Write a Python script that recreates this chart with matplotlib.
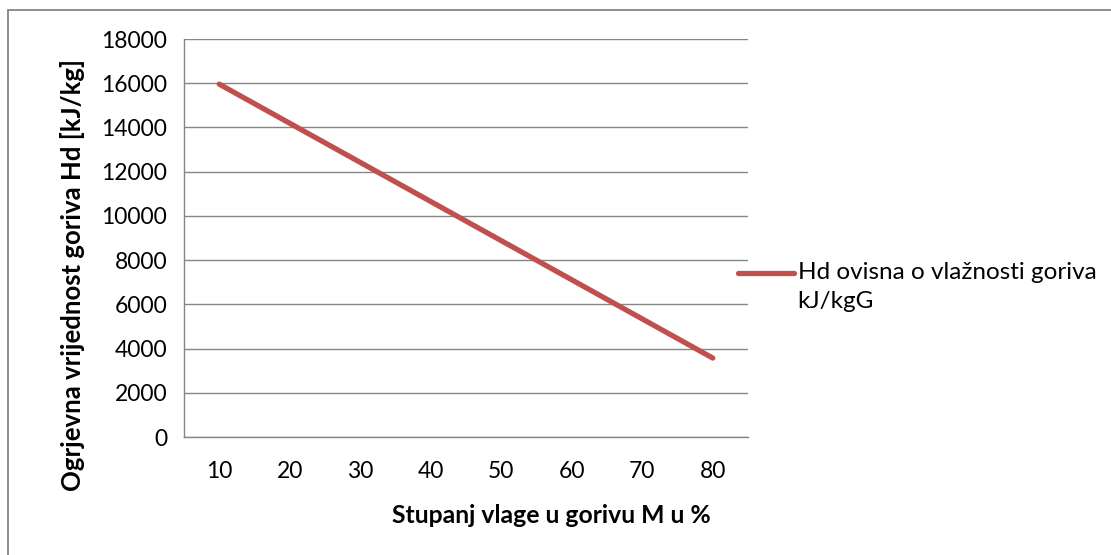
import matplotlib.pyplot as plt
import matplotlib.patches as patches

plt.rcParams['font.family'] = ['Lato', 'DejaVu Sans']

# moisture content M (%) and net heating value Hd (kJ/kg)
vlaga = [10, 20, 30, 40, 50, 60, 70, 80]
hd = [15960, 14190, 12420, 10650, 8880, 7110, 5340, 3570]
y_ticks = [0, 2000, 4000, 6000, 8000, 10000, 12000, 14000, 16000, 18000]

grey = '#868686'

fig = plt.figure(figsize=(11.11, 5.55), dpi=100)
ax = fig.add_axes([0.1656, 0.2126, 0.5077, 0.7171])

ax.plot(vlaga, hd, color='#C0504D', linewidth=3.8, solid_capstyle='round',
        label='Hd ovisna o vlažnosti goriva\nkJ/kgG')

ax.set_xlim(5, 85)
ax.set_ylim(0, 18000)
ax.set_xticks(vlaga)
ax.set_xticklabels([str(v) for v in vlaga])
ax.set_yticks(y_ticks)
ax.set_yticklabels([str(v) for v in y_ticks])

ax.grid(axis='y', color=grey, linewidth=1.0)
ax.set_axisbelow(True)
for s in ['top', 'right']:
    ax.spines[s].set_visible(False)
for s in ['left', 'bottom']:
    ax.spines[s].set_color(grey)
    ax.spines[s].set_linewidth(1.0)

ax.tick_params(axis='both', length=0, labelsize=16.5, colors='black')
ax.tick_params(axis='y', pad=12)
ax.tick_params(axis='x', pad=17)

ax.set_xlabel('Stupanj vlage u gorivu M u %', fontsize=17.8, fontweight='bold', va='center')
ax.xaxis.set_label_coords(0.651, -0.196)
ax.set_ylabel('Ogrjevna vrijednost goriva Hd [kJ/kg]', fontsize=18.5, fontweight='bold', va='center')
ax.yaxis.set_label_coords(-0.197, 0.408)

leg = ax.legend(loc='upper left', bbox_to_anchor=(738 / 1111, 1 - 262 / 555), bbox_transform=fig.transFigure,
                frameon=False, fontsize=17.5, handlelength=2.3, handletextpad=0.15,
                borderaxespad=0, borderpad=0)
leg.get_texts()[0].set_linespacing(1.45)
# put the legend line next to the first text line
hl = leg.legend_handles[0]
hl.set_ydata([y + 10 for y in hl.get_ydata()])

# outer chart area border (only top/left visible in the crop)
fig.add_artist(patches.Rectangle((8 / 1111, -0.1), 1.2, 1 - 10 / 555 + 0.1,
                                 transform=fig.transFigure, fill=False,
                                 edgecolor=grey, linewidth=1.3))

fig.savefig('out.png', dpi=100)
